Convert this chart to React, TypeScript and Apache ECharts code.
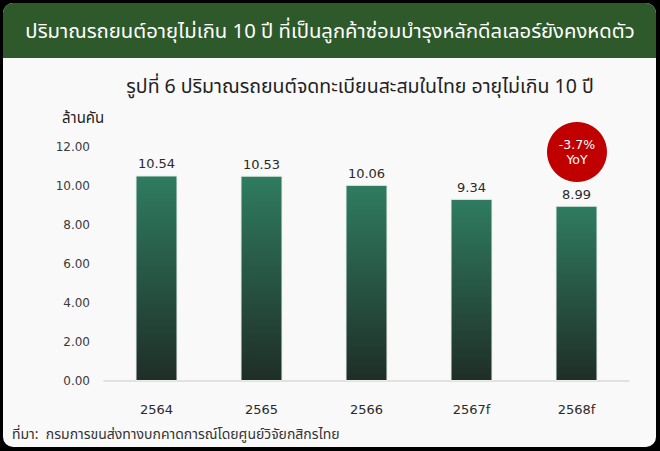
import React, { useEffect, useRef } from "react";
import * as echarts from "echarts";

const categories = ["2564", "2565", "2566", "2567f", "2568f"];
const values = [10.54, 10.53, 10.06, 9.34, 8.99];
const yTicks = { min: 0, max: 12, interval: 2 };
const headerTitle = "ปริมาณรถยนต์อายุไม่เกิน 10 ปี ที่เป็นลูกค้าซ่อมบำรุงหลักดีลเลอร์ยังคงหดตัว";
const chartTitle = "รูปที่ 6 ปริมาณรถยนต์จดทะเบียนสะสมในไทย อายุไม่เกิน 10 ปี";
const unitLabel = "ล้านคัน";
const sourceText = "ที่มา:  กรมการขนส่งทางบกคาดการณ์โดยศูนย์วิจัยกสิกรไทย";
const badgeText = "-3.7%\nYoY";

const FONT = "'Noto Sans Thai', 'Noto Sans', Tahoma, sans-serif";
const NUM = "'DejaVu Sans', 'Noto Sans Thai', sans-serif";

export default function App() {
  const ref = useRef<HTMLDivElement>(null);
  useEffect(() => {
    document.body.style.margin = "0";
    if (!ref.current) return;
    const chart = echarts.init(ref.current, undefined, { renderer: "svg" });
    chart.setOption({
      animation: false,
      backgroundColor: "transparent",
      textStyle: { fontFamily: FONT },
      graphic: [
        { type: "rect", z: -10, shape: { x: 3, y: 3, width: 653, height: 444, r: 10 }, style: { fill: "#f9f9f9" } },
        { type: "rect", z: -9, shape: { x: 3, y: 3, width: 653, height: 55, r: [10, 10, 0, 0] }, style: { fill: "#2e5a2b" } },
        { type: "text", x: 330, y: 31, style: { text: headerTitle, fill: "#ffffff", fontSize: 20.3, fontFamily: FONT, align: "center", verticalAlign: "middle" } },
        { type: "text", x: 360, y: 87, style: { text: chartTitle, fill: "#222222", fontSize: 19.5, fontFamily: FONT, align: "center", verticalAlign: "middle" } },
        { type: "text", x: 62, y: 118, style: { text: unitLabel, fill: "#222222", fontSize: 15, fontFamily: FONT, align: "left", verticalAlign: "middle" } },
        { type: "text", x: 12, y: 434, style: { text: sourceText, fill: "#333333", fontSize: 14, fontFamily: FONT, align: "left", verticalAlign: "middle" } },
        { type: "circle", shape: { cx: 577, cy: 152, r: 30 }, style: { fill: "#c00000" } },
        { type: "text", x: 577, y: 152, style: { text: badgeText, fill: "#ffffff", fontSize: 12.5, lineHeight: 15, fontFamily: NUM, align: "center", verticalAlign: "middle" } },
      ],
      grid: { left: 104, right: 31, top: 147, bottom: 70 },
      xAxis: {
        type: "category",
        data: categories,
        axisLine: { lineStyle: { color: "#d9d9d9", width: 1.5 } },
        axisTick: { show: false },
        axisLabel: { color: "#2a2a2a", fontSize: 13, margin: 22, fontFamily: NUM },
      },
      yAxis: {
        type: "value",
        min: yTicks.min,
        max: yTicks.max,
        interval: yTicks.interval,
        splitLine: { show: false },
        axisLine: { show: false },
        axisTick: { show: false },
        axisLabel: { color: "#3a3a3a", fontSize: 12, margin: 14, fontFamily: NUM, formatter: (v: number) => v.toFixed(2) },
      },
      series: [
        {
          type: "bar",
          data: values,
          barWidth: "40%",
          itemStyle: {
            borderColor: "#e8efe9",
            borderWidth: 1,
            color: new echarts.graphic.LinearGradient(0, 0, 0, 1, [
              { offset: 0, color: "#2f7c60" },
              { offset: 1, color: "#1f2e27" },
            ]),
          },
          label: {
            show: true,
            position: "top",
            distance: 5,
            color: "#2a2a2a",
            fontSize: 13,
            fontFamily: NUM,
            formatter: (p: any) => p.value.toFixed(2),
          },
        },
      ],
    });
    return () => chart.dispose();
  }, []);
  return <div ref={ref} style={{ width: 660, height: 451, background: "#000000" }} />;
}
